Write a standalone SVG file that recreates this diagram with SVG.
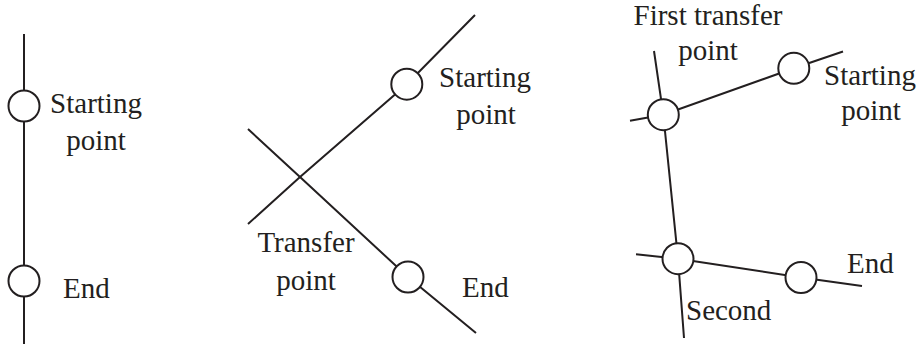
<svg xmlns="http://www.w3.org/2000/svg" width="920" height="344" viewBox="0 0 920 344">
<style>
.ln{fill:none;stroke:#231f20;stroke-width:2}
.nd{fill:#fff;stroke:#231f20;stroke-width:2}
.t{font-family:'Liberation Serif','Times New Roman',serif;font-size:29px;fill:#231f20}
.m{text-anchor:middle}
</style>
<rect width="920" height="344" fill="#fff"/>
<g id="connectors">
<line class="ln" x1="24" y1="34" x2="24" y2="344"/>
<polyline class="ln" points="248,224 300,177 406.8,84.2 475,15"/>
<polyline class="ln" points="248,129 300,177 408,277 476,333"/>
<polyline class="ln" points="654,51 663.3,114.7 678,258.7 684,338"/>
<polyline class="ln" points="630,120.7 663.3,114.7 793.8,68.3 843,51.5"/>
<polyline class="ln" points="636,254.3 678,258.7 801,277.5 862,286"/>
</g>
<g id="p1-start"><circle class="nd" cx="24" cy="106" r="15.5"/>
<text class="t m" x="96" y="113">Starting</text><text class="t m" x="96" y="150">point</text></g>
<g id="p1-end"><circle class="nd" cx="24" cy="281" r="15.5"/>
<text class="t" x="63" y="298">End</text></g>
<g id="p2-start"><circle class="nd" cx="406.8" cy="84.2" r="15.5"/>
<text class="t m" x="485" y="87">Starting</text><text class="t m" x="486" y="124">point</text></g>
<g id="p2-transfer"><text class="t m" x="306" y="252">Transfer</text><text class="t m" x="306" y="290">point</text></g>
<g id="p2-end"><circle class="nd" cx="408" cy="277" r="15.5"/>
<text class="t" x="462" y="297">End</text></g>
<g id="p3-first"><circle class="nd" cx="663.3" cy="114.7" r="15.5"/>
<text class="t m" x="708" y="25">First transfer</text><text class="t m" x="708" y="60">point</text></g>
<g id="p3-start"><circle class="nd" cx="793.8" cy="68.3" r="15.5"/>
<text class="t m" x="870" y="85">Starting</text><text class="t m" x="871" y="120">point</text></g>
<g id="p3-second"><circle class="nd" cx="678" cy="258.7" r="15.5"/>
<text class="t" x="686" y="320">Second</text></g>
<g id="p3-end"><circle class="nd" cx="801" cy="277.5" r="15.5"/>
<text class="t" x="847" y="273">End</text></g>
</svg>
